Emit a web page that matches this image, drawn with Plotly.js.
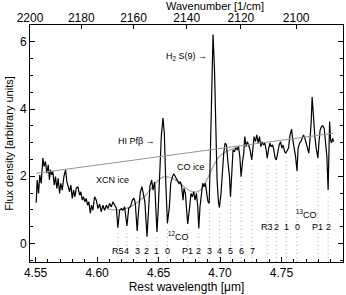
<!DOCTYPE html>
<html>
<head>
<meta charset="utf-8">
<script src="https://cdn.plot.ly/plotly-3.0.1.min.js"></script>
<style>html,body{margin:0;padding:0;background:#fff;}#chart{width:346px;height:295px;}</style>
</head>
<body>
<div id="chart"></div>
<script>
// Observed spectrum: rest wavelength (micron) and flux density (arbitrary units)
const wavelength = [4.5505,4.5513,4.5524,4.5534,4.5546,4.5559,4.5570,4.5581,4.5591,4.5603,
4.5613,4.5621,4.5632,4.5640,4.5652,4.5662,4.5673,4.5684,4.5695,4.5705,
4.5717,4.5730,4.5744,4.5754,4.5766,4.5776,4.5787,4.5798,4.5809,4.5819,
4.5831,4.5844,4.5858,4.5868,4.5880,4.5890,4.5901,4.5912,4.5923,4.5933,
4.5945,4.5955,4.5966,4.5980,4.5994,4.6007,4.6021,4.6034,4.6047,4.6061,
4.6075,4.6088,4.6102,4.6116,4.6129,4.6143,4.6157,4.6169,4.6183,4.6197,
4.6210,4.6224,4.6243,4.6257,4.6273,4.6287,4.6300,4.6311,4.6326,4.6338,
4.6352,4.6365,4.6379,4.6389,4.6406,4.6417,4.6430,4.6444,4.6455,4.6468,
4.6487,4.6497,4.6509,4.6523,4.6536,4.6547,4.6558,4.6564,4.6572,4.6588,
4.6599,4.6613,4.6623,4.6634,4.6645,4.6656,4.6666,4.6678,4.6688,4.6699,
4.6707,4.6718,4.6727,4.6737,4.6753,4.6764,4.6775,4.6786,4.6797,4.6808,
4.6819,4.6827,4.6837,4.6849,4.6859,4.6870,4.6881,4.6892,4.6902,4.6912,
4.6922,4.6933,4.6943,4.6955,4.6965,4.6976,4.6987,4.6995,4.7008,4.7020,
4.7030,4.7041,4.7052,4.7065,4.7077,4.7085,4.7095,4.7106,4.7117,4.7128,
4.7139,4.7150,4.7161,4.7171,4.7183,4.7193,4.7201,4.7212,4.7223,4.7234,
4.7244,4.7258,4.7266,4.7277,4.7288,4.7299,4.7310,4.7321,4.7332,4.7342,
4.7354,4.7364,4.7375,4.7384,4.7394,4.7405,4.7415,4.7427,4.7437,4.7448,
4.7458,4.7470,4.7481,4.7492,4.7503,4.7513,4.7525,4.7535,4.7546,4.7557,
4.7568,4.7582,4.7592,4.7603,4.7614,4.7626,4.7635,4.7647,4.7657,4.7668,
4.7679,4.7690,4.7700,4.7712,4.7722,4.7733,4.7741,4.7749,4.7761,4.7771,
4.7782,4.7796,4.7804,4.7814,4.7826,4.7836,4.7847,4.7858,4.7869,4.7879,
4.7885,4.7891,4.7899,4.7907,4.7915,4.7924];
const flux = [1.21,1.89,1.49,2.04,1.79,2.54,2.29,2.44,2.09,2.34,
1.89,2.19,2.04,2.14,1.74,1.99,1.64,1.94,1.49,1.79,
1.59,1.99,2.19,1.84,1.69,1.54,1.74,1.34,1.59,1.39,
1.64,1.69,1.44,1.54,1.29,1.39,1.24,1.34,1.14,1.24,
0.90,1.14,0.99,1.39,1.29,1.04,1.17,0.94,1.14,0.99,
1.14,1.04,1.19,1.09,1.24,1.14,1.05,0.47,0.99,1.04,
0.99,1.09,0.52,1.04,1.11,1.29,1.35,1.20,0.37,0.99,
1.53,1.69,1.44,1.23,0.20,0.99,1.71,1.89,1.59,1.83,
0.34,0.99,2.04,3.23,3.73,3.28,1.89,1.00,0.60,1.09,
1.79,1.99,2.07,2.01,1.94,1.89,1.79,1.84,1.69,1.29,
1.64,1.49,0.99,0.58,1.09,1.49,1.39,1.54,1.29,1.49,
1.09,0.45,1.09,1.49,1.79,1.69,1.79,1.49,1.24,1.19,
2.69,5.17,6.22,5.17,3.18,1.89,1.24,1.07,1.49,2.19,
2.69,2.99,2.93,2.39,1.99,1.39,2.29,2.79,2.73,2.84,
2.79,2.88,2.59,1.99,2.44,2.69,3.18,2.88,3.03,2.93,
2.79,2.49,2.88,3.18,3.03,3.23,2.99,3.18,2.88,3.03,
2.93,2.99,2.79,2.54,2.79,2.99,2.88,2.93,2.79,2.54,
2.49,2.73,2.93,3.03,2.84,2.93,2.73,2.69,2.79,2.84,
3.20,3.40,3.08,2.84,2.59,2.16,2.84,2.99,3.03,3.13,
3.23,3.13,2.99,2.88,2.69,3.18,3.58,4.36,3.48,3.18,
2.84,2.54,2.99,3.38,3.48,3.50,3.43,3.08,2.59,1.59,
2.59,3.63,3.08,2.99,3.13,3.03];

// Straight continuum (grey)
const contWl = [4.5505, 4.7920];
const contFlux = [2.09, 3.28];

// Continuum + ice (XCN, CO) model curve (grey)
const iceWl = [4.6086,4.6143,4.6200,4.6249,4.6306,4.6346,4.6387,4.6428,4.6468,4.6509,
4.6550,4.6591,4.6631,4.6672,4.6713,4.6753,4.6794,4.6835,4.6876,4.6916,
4.6957,4.6998,4.7038,4.7079,4.7120,4.7161];
const iceFlux = [1.02,1.00,1.01,1.06,1.17,1.28,1.40,1.58,1.76,1.92,
1.99,1.97,1.90,1.80,1.67,1.57,1.53,1.58,1.78,2.07,
2.38,2.60,2.71,2.78,2.84,2.89];

// 12CO v=1-0 line positions, marker tops, labels
const co12Wl = [4.6169,4.6243,4.6326,4.6406,4.6487,4.6572,4.6737,4.6827,4.6914,4.6995,4.7085,4.7171,4.7261];
const co12Top = [0.35,0.40,0.25,0.10,0.22,0.48,0.45,0.33,1.07,0.95,1.27,1.87,2.37];
const co12Labels = ['R5','4','3','2','1','0','P1','2','3','4','5','6','7'];
// 13CO v=1-0 line positions, marker tops, labels
const co13Wl = [4.7384,4.7458,4.7539,4.7626,4.7796,4.7879];
const co13Top = [2.42,2.37,2.60,2.04,2.42,1.47];
const co13Labels = ['R3','2','1','0','P1','2'];

// Top axis wavenumber ticks (cm^-1)
const wavenumberTicks = [2200,2180,2160,2140,2120,2100];

const xRange = [1e4/2200, 4.80];
const yRange = [-0.55, 6.5];

// dotted line markers
const dotX = [], dotY = [];
function addDots(wls, tops){
  wls.forEach((w,i)=>{ dotX.push(w,w,null); dotY.push(yRange[0], tops[i], null); });
}
addDots(co12Wl, co12Top);
addDots(co13Wl, co13Top);

const traces = [
  {x: dotX, y: dotY, mode:'lines', line:{color:'#b0b0b0', width:1, dash:'1px,3px'}, hoverinfo:'skip'},
  {x: contWl, y: contFlux, xaxis:'x2', mode:'lines', line:{color:'#969696', width:1.2}, hoverinfo:'skip'},
  {x: iceWl, y: iceFlux, mode:'lines', line:{color:'#a0a0a0', width:1.2, shape:'spline'}, hoverinfo:'skip'},
  {x: wavelength, y: flux, mode:'lines', line:{color:'black', width:1.2}}
];

const small = {family:'Liberation Sans, Arial, sans-serif', size:9, color:'black'};
const ann = [];
co12Wl.forEach((w,i)=>ann.push({x:w, y:-0.22, text:co12Labels[i], showarrow:false, font:small, xanchor:'center', yanchor:'middle'}));
co13Wl.forEach((w,i)=>ann.push({x:w, y:0.50, text:co13Labels[i], showarrow:false, font:small, xanchor:'center', yanchor:'middle'}));
ann.push({x:4.6660, y:0.21, text:'<sup>12</sup>CO', showarrow:false, font:small});
ann.push({x:4.7706, y:0.87, text:'<sup>13</sup>CO', showarrow:false, font:small});
ann.push({x:4.6122, y:1.89, text:'XCN ice', showarrow:false, font:small});
ann.push({x:4.6761, y:2.27, text:'CO ice', showarrow:false, font:small});
ann.push({x:4.6485, y:3.06, text:'HI Pf\u03b2 \u2192', showarrow:false, font:small, xanchor:'right'});
ann.push({x:4.6908, y:5.57, text:'H<sub>2</sub> S(9) \u2192', showarrow:false, font:small, xanchor:'right'});

const axFont = {family:'Liberation Sans, Arial, sans-serif', size:12, color:'black'};
// top axis title
ann.push({xref:'paper', yref:'paper', x:0.59, y:1.0, yshift:19, text:'Wavenumber [1/cm]', showarrow:false,
  font:{family:'Liberation Sans, Arial, sans-serif', size:11, color:'black'}, xanchor:'center', yanchor:'middle'});

const layout = {
  width:346, height:295,
  margin:{l:30, r:3, t:25, b:33, pad:0},
  paper_bgcolor:'white', plot_bgcolor:'white',
  showlegend:false,
  font:axFont,
  xaxis:{range:xRange, showline:true, linecolor:'black', linewidth:1, mirror:false,
    ticks:'inside', ticklen:5, tickcolor:'black', tickwidth:1, tick0:4.55, dtick:0.05, tickformat:'.2f',
    minor:{tick0:4.55, dtick:0.01, ticks:'inside', ticklen:3, tickcolor:'black'},
    showgrid:false, zeroline:false, tickfont:axFont,
    title:{text:'Rest wavelength [\u03bcm]', standoff:3, font:axFont}},
  xaxis2:{overlaying:'x', side:'top', range:xRange, showline:true, linecolor:'black', linewidth:1,
    tickmode:'array', tickvals:wavenumberTicks.map(w=>1e4/w), ticktext:wavenumberTicks.map(String),
    ticks:'inside', ticklen:4, tickcolor:'black', showgrid:false, zeroline:false, tickfont:axFont,
    ticklabelstandoff:-3},
  yaxis:{range:yRange, showline:true, linecolor:'black', linewidth:1, mirror:'ticks',
    ticks:'inside', ticklen:5, tickcolor:'black', tick0:0, dtick:2,
    minor:{dtick:0.5, ticks:'inside', ticklen:3, tickcolor:'black'},
    showgrid:false, zeroline:false, tickfont:axFont,
    title:{text:'Flux density [arbitrary units]', standoff:4, font:{family:'Liberation Sans, Arial, sans-serif', size:11, color:'black'}}},
  annotations: ann
};

Plotly.newPlot('chart', traces, layout, {staticPlot:true, displayModeBar:false});
</script>
</body>
</html>
